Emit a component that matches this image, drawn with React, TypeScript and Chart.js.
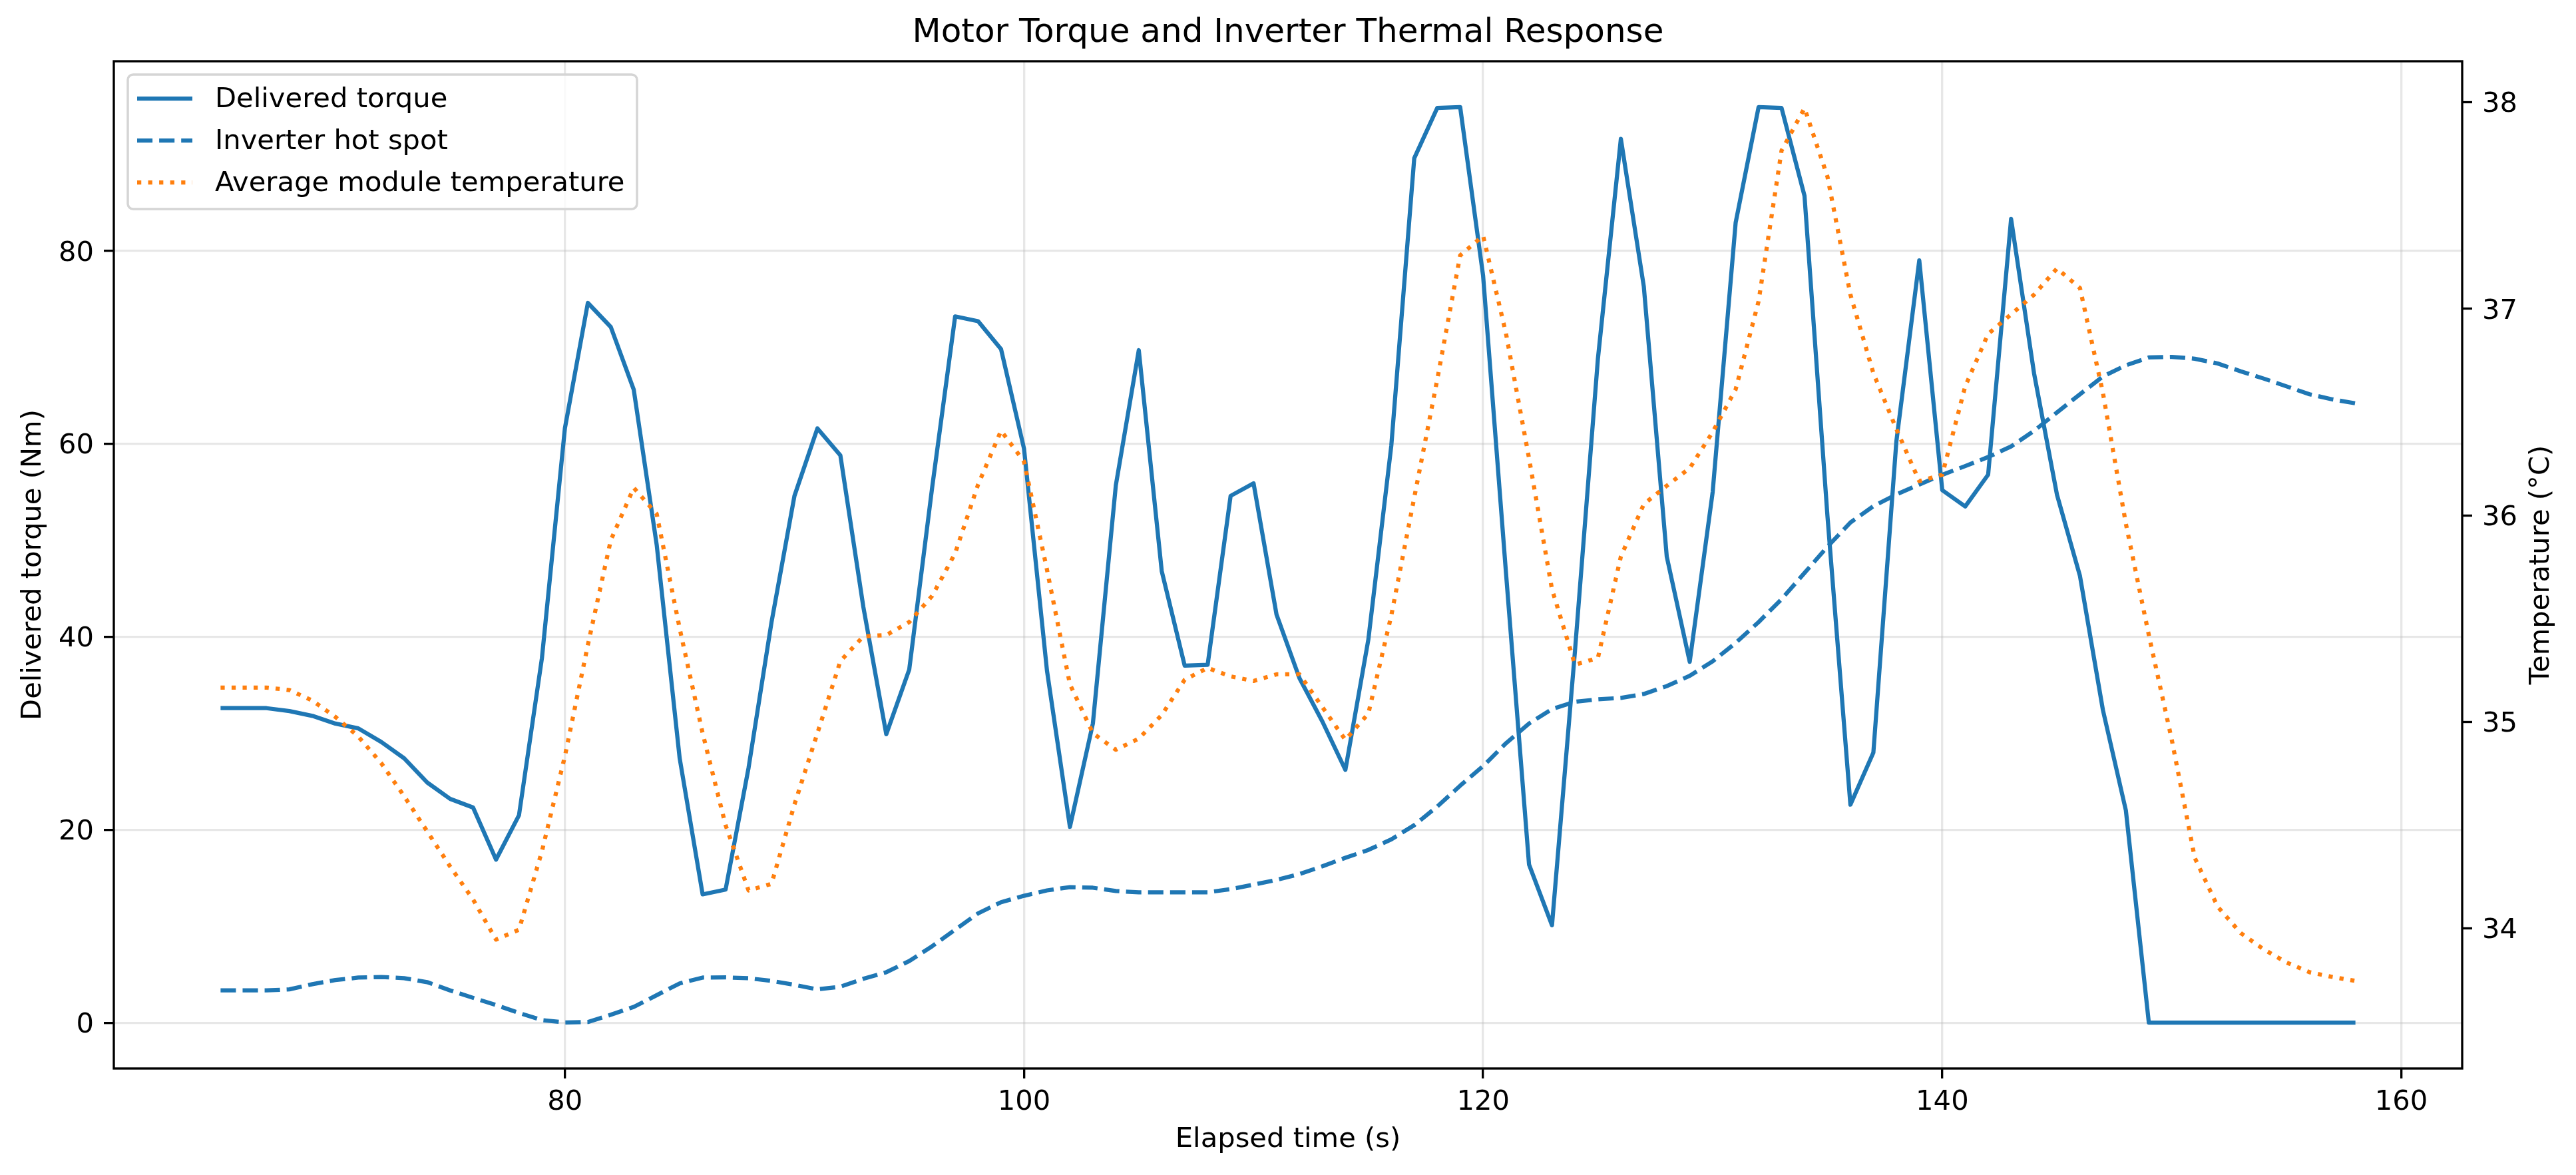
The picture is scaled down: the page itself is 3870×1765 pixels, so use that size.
import React, { useEffect, useRef } from 'react';
import { Chart, Plugin, registerables } from 'chart.js';

Chart.register(...registerables);

const W = 3870;
const H = 1765;
const FONT = '"DejaVu Sans", "Liberation Sans", sans-serif';
const BLUE = '#1f77b4';
const ORANGE = '#ff7f0e';

// elapsed time, one sample per second
const timeSec = [
  65, 66, 67, 68, 69, 70, 71, 72, 73, 74,
  75, 76, 77, 78, 79, 80, 81, 82, 83, 84,
  85, 86, 87, 88, 89, 90, 91, 92, 93, 94,
  95, 96, 97, 98, 99, 100, 101, 102, 103, 104,
  105, 106, 107, 108, 109, 110, 111, 112, 113, 114,
  115, 116, 117, 118, 119, 120, 121, 122, 123, 124,
  125, 126, 127, 128, 129, 130, 131, 132, 133, 134,
  135, 136, 137, 138, 139, 140, 141, 142, 143, 144,
  145, 146, 147, 148, 149, 150, 151, 152, 153, 154,
  155, 156, 157, 158,
];

// delivered torque (Nm), left axis
const torqueNm = [
  32.6, 32.6, 32.6, 32.3, 31.8, 31.0, 30.5, 29.1, 27.4, 24.9,
  23.2, 22.3, 16.9, 21.5, 37.8, 61.6, 74.6, 72.1, 65.6, 49.5,
  27.4, 13.3, 13.8, 26.4, 41.5, 54.6, 61.6, 58.8, 43.1, 29.9,
  36.6, 55.5, 73.2, 72.7, 69.8, 59.5, 36.5, 20.3, 31.0, 55.7,
  69.7, 46.8, 37.0, 37.1, 54.6, 55.9, 42.3, 35.7, 31.2, 26.2,
  39.7, 59.8, 89.6, 94.8, 94.9, 77.4, 46.5, 16.4, 10.1, 38.5,
  68.8, 91.6, 76.3, 48.3, 37.4, 55.0, 82.9, 94.9, 94.8, 85.7,
  52.5, 22.6, 28.0, 60.2, 79.0, 55.2, 53.5, 56.8, 83.3, 67.3,
  54.7, 46.3, 32.4, 22.0, 0, 0, 0, 0, 0, 0,
  0, 0, 0, 0,
];

// inverter hot spot (°C), right axis
const hotSpotC = [
  33.70, 33.70, 33.70, 33.705, 33.73, 33.75, 33.762, 33.765, 33.759, 33.74,
  33.70, 33.664, 33.629, 33.591, 33.556, 33.545, 33.547, 33.582, 33.62, 33.677,
  33.734, 33.762, 33.763, 33.759, 33.746, 33.727, 33.705, 33.718, 33.756, 33.788,
  33.842, 33.914, 33.994, 34.073, 34.127, 34.158, 34.184, 34.2, 34.197, 34.181,
  34.175, 34.175, 34.175, 34.175, 34.19, 34.212, 34.235, 34.263, 34.301, 34.342,
  34.38, 34.431, 34.5, 34.59, 34.691, 34.786, 34.897, 34.992, 35.062, 35.097,
  35.109, 35.116, 35.135, 35.173, 35.223, 35.293, 35.382, 35.483, 35.594, 35.721,
  35.848, 35.965, 36.044, 36.101, 36.149, 36.196, 36.238, 36.282, 36.333, 36.409,
  36.498, 36.586, 36.672, 36.726, 36.764, 36.767, 36.758, 36.735, 36.697, 36.662,
  36.624, 36.586, 36.561, 36.542,
];

// average module temperature (°C), right axis
const moduleAvgC = [
  35.166, 35.166, 35.166, 35.154, 35.103, 35.024, 34.929, 34.80, 34.64, 34.47,
  34.30, 34.14, 33.946, 33.994, 34.374, 34.834, 35.372, 35.88, 36.133, 36.006,
  35.452, 34.945, 34.50, 34.184, 34.216, 34.6, 34.945, 35.294, 35.414, 35.42,
  35.483, 35.61, 35.816, 36.149, 36.409, 36.26, 35.737, 35.182, 34.945, 34.865,
  34.919, 35.033, 35.204, 35.261, 35.22, 35.198, 35.23, 35.23, 35.071, 34.913,
  35.04, 35.515, 36.086, 36.656, 37.258, 37.353, 36.878, 36.276, 35.642, 35.277,
  35.309, 35.8, 36.054, 36.143, 36.228, 36.403, 36.609, 37.036, 37.765, 37.971,
  37.639, 37.068, 36.688, 36.418, 36.165, 36.196, 36.624, 36.878, 36.973, 37.068,
  37.195, 37.1, 36.593, 35.959, 35.42, 34.913, 34.342, 34.105, 33.978, 33.899,
  33.835, 33.788, 33.765, 33.746,
];

const xTicks = [80, 100, 120, 140, 160];
const torqueTicks = [0, 20, 40, 60, 80];
const tempTicks = [34, 35, 36, 37, 38];

const seriesLabels = ['Delivered torque', 'Inverter hot spot', 'Average module temperature'];

const toPoints = (ys: number[]) => timeSec.map((t, i) => ({ x: t, y: ys[i] }));

const TICK_FONT = { family: FONT, size: 41.67 };
const GRID = 'rgba(176,176,176,0.3)';

// black box around the plot (matplotlib spines)
const framePlugin: Plugin<'line'> = {
  id: 'frame',
  afterDatasetsDraw(chart) {
    const { ctx, chartArea: a } = chart;
    ctx.save();
    ctx.strokeStyle = '#000';
    ctx.lineWidth = 3.33;
    ctx.strokeRect(a.left, a.top, a.right - a.left, a.bottom - a.top);
    ctx.restore();
  },
};

// right axis label reads bottom-to-top like the left one
const rightTitlePlugin: Plugin<'line'> = {
  id: 'rightTitle',
  afterDraw(chart) {
    const { ctx, chartArea: a } = chart;
    ctx.save();
    ctx.translate(3818, (a.top + a.bottom) / 2);
    ctx.rotate(-Math.PI / 2);
    ctx.font = `41.67px ${FONT}`;
    ctx.fillStyle = '#000';
    ctx.textAlign = 'center';
    ctx.textBaseline = 'middle';
    ctx.fillText('Temperature (°C)', 0, 0);
    ctx.restore();
  },
};

// legend in the upper-left corner of the axes
const legendPlugin: Plugin<'line'> = {
  id: 'cornerLegend',
  afterDraw(chart) {
    const { ctx } = chart;
    ctx.save();
    ctx.beginPath();
    ctx.roundRect(192, 112, 765, 202, 8);
    ctx.fillStyle = 'rgba(255,255,255,0.8)';
    ctx.fill();
    ctx.lineWidth = 3.5;
    ctx.strokeStyle = '#d5d5d5';
    ctx.stroke();
    chart.data.datasets.forEach((ds: any, i) => {
      const cy = 148 + i * 63;
      ctx.beginPath();
      ctx.setLineDash(ds.borderDash || []);
      ctx.strokeStyle = ds.borderColor;
      ctx.lineWidth = 6.25;
      ctx.lineCap = 'butt';
      ctx.moveTo(206, cy);
      ctx.lineTo(289, cy);
      ctx.stroke();
      ctx.setLineDash([]);
      ctx.fillStyle = '#000';
      ctx.font = `41.67px ${FONT}`;
      ctx.textAlign = 'left';
      ctx.textBaseline = 'middle';
      ctx.fillText(ds.label, 323, cy + 2.6);
    });
    ctx.restore();
  },
};

export default function App() {
  const canvasRef = useRef<HTMLCanvasElement | null>(null);

  useEffect(() => {
    const canvas = canvasRef.current;
    if (!canvas) return;
    Chart.defaults.font.family = FONT;

    const chart = new Chart(canvas, {
      type: 'line',
      data: {
        datasets: [
          {
            label: seriesLabels[0],
            data: toPoints(torqueNm),
            yAxisID: 'y',
            borderColor: BLUE,
            borderWidth: 6.25,
            borderJoinStyle: 'round',
            pointRadius: 0,
            tension: 0,
            order: 2,
          },
          {
            label: seriesLabels[1],
            data: toPoints(hotSpotC),
            yAxisID: 'y2',
            borderColor: BLUE,
            borderWidth: 6.25,
            borderDash: [23.1, 10],
            borderCapStyle: 'butt',
            borderJoinStyle: 'round',
            pointRadius: 0,
            tension: 0,
            order: 1,
          },
          {
            label: seriesLabels[2],
            data: toPoints(moduleAvgC),
            yAxisID: 'y2',
            borderColor: ORANGE,
            borderWidth: 6.25,
            borderDash: [6.25, 10.3],
            borderCapStyle: 'butt',
            borderJoinStyle: 'round',
            pointRadius: 0,
            tension: 0,
            order: 0,
          },
        ],
      },
      options: {
        animation: false,
        responsive: false,
        devicePixelRatio: 1,
        layout: { padding: 0 },
        plugins: {
          legend: { display: false },
          tooltip: { enabled: false },
          title: {
            display: true,
            text: 'Motor Torque and Inverter Thermal Response',
            color: '#000',
            font: { family: FONT, size: 50, weight: 'normal' },
            padding: { top: 20, bottom: 12 },
          },
        },
        scales: {
          x: {
            type: 'linear',
            min: 60.35,
            max: 162.65,
            afterBuildTicks: (s) => {
              s.ticks = xTicks.map((value) => ({ value }));
            },
            afterFit: (s) => {
              s.height = 160;
            },
            border: { display: false },
            grid: {
              color: GRID,
              lineWidth: 3.33,
              tickColor: '#000',
              tickWidth: 3.33,
              tickLength: 15,
            },
            ticks: { color: '#000', font: TICK_FONT, padding: 11, autoSkip: false, maxRotation: 0 },
            title: {
              display: true,
              text: 'Elapsed time (s)',
              color: '#000',
              font: TICK_FONT,
              padding: { top: 0, bottom: 28 },
            },
          },
          y: {
            type: 'linear',
            position: 'left',
            min: -4.745,
            max: 99.645,
            afterBuildTicks: (s) => {
              s.ticks = torqueTicks.map((value) => ({ value }));
            },
            afterFit: (s) => {
              s.width = 171;
            },
            border: { display: false },
            grid: {
              color: GRID,
              lineWidth: 3.33,
              tickColor: '#000',
              tickWidth: 3.33,
              tickLength: 15,
            },
            ticks: { color: '#000', font: TICK_FONT, padding: 15, labelOffset: 4 },
            title: {
              display: true,
              text: 'Delivered torque (Nm)',
              color: '#000',
              font: TICK_FONT,
              padding: { top: 25.6, bottom: 0 },
            },
          },
          y2: {
            type: 'linear',
            position: 'right',
            min: 33.322,
            max: 38.198,
            afterBuildTicks: (s) => {
              s.ticks = tempTicks.map((value) => ({ value }));
            },
            afterFit: (s) => {
              s.width = 171;
            },
            border: { display: false },
            grid: {
              drawOnChartArea: false,
              tickColor: '#000',
              tickWidth: 3.33,
              tickLength: 15,
            },
            ticks: { color: '#000', font: TICK_FONT, padding: 15, labelOffset: 4 },
          },
        },
      },
      plugins: [framePlugin, rightTitlePlugin, legendPlugin],
    });

    return () => {
      chart.destroy();
    };
  }, []);

  return (
    <div style={{ position: 'absolute', left: 0, top: 0, width: W, height: H, background: '#fff' }}>
      <canvas ref={canvasRef} width={W} height={H} style={{ display: 'block', width: W, height: H }} />
    </div>
  );
}
